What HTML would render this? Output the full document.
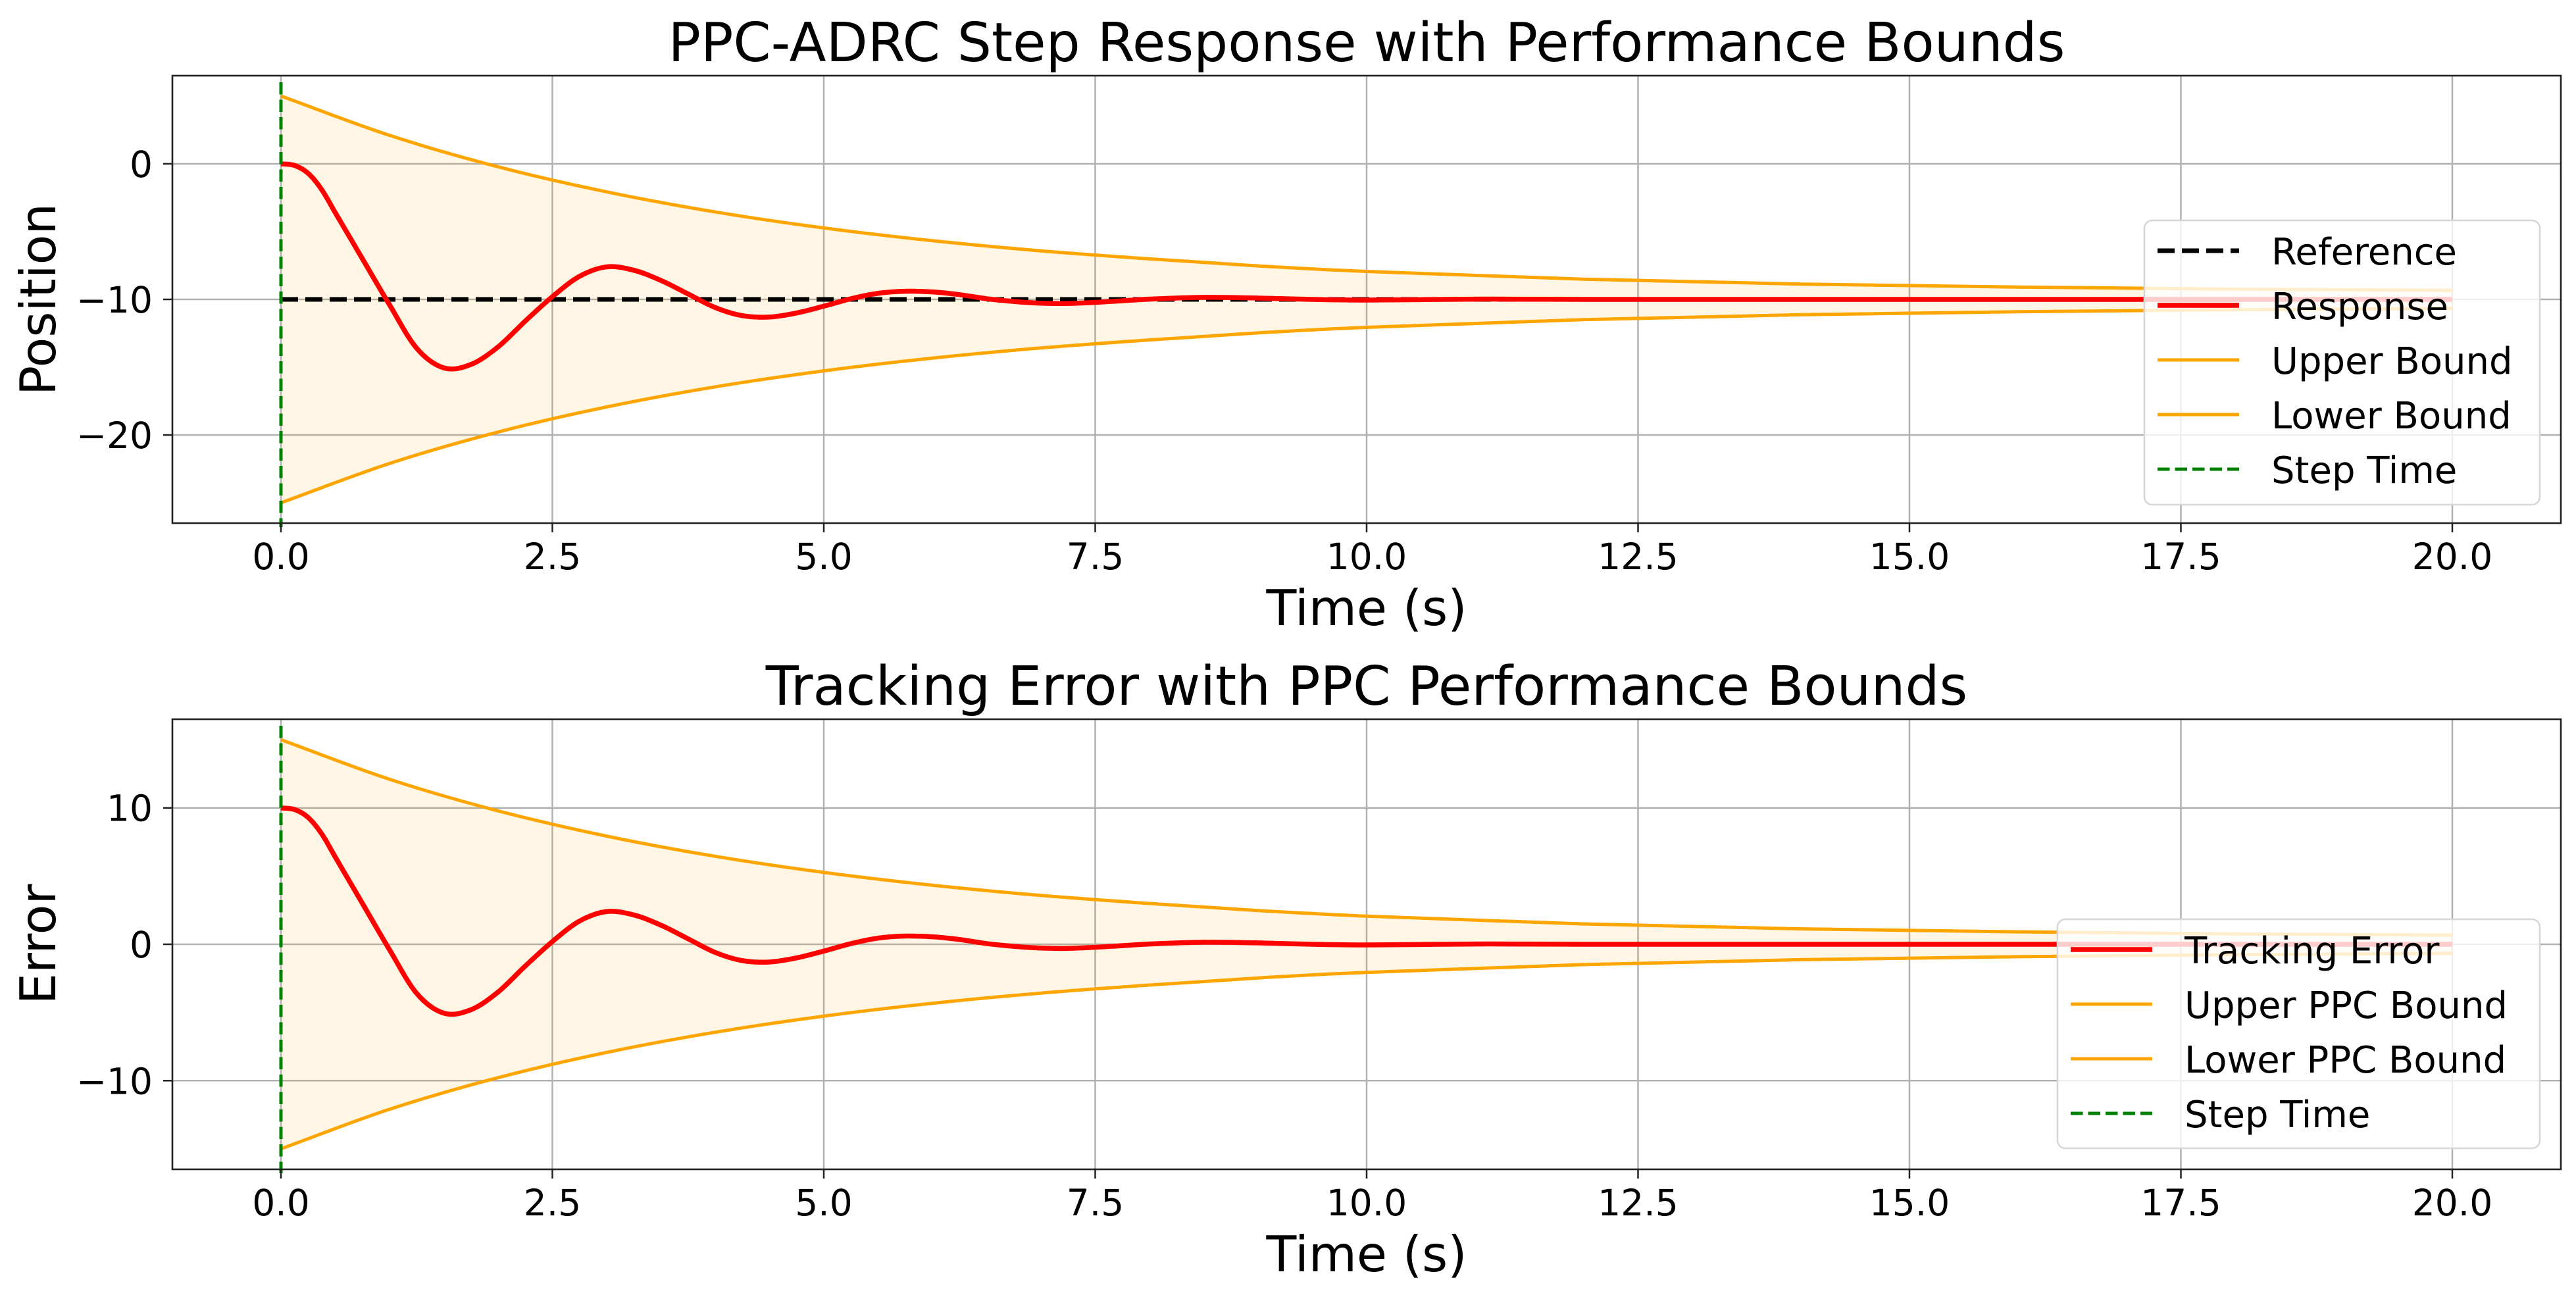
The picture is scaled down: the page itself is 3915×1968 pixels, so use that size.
<!DOCTYPE html>
<html><head><meta charset="utf-8"><style>
html,body{margin:0;padding:0;background:#fff;}
svg{display:block;font-family:"DejaVu Sans","Liberation Sans",sans-serif;}
</style></head><body>
<svg id="chart" width="3915" height="1968" viewBox="0 0 3915 1968" xmlns="http://www.w3.org/2000/svg"></svg>
<script>
// ---- data ----
const xTicks = [0, 2.5, 5, 7.5, 10, 12.5, 15, 17.5, 20];
const xTickLabels = ["0.0","2.5","5.0","7.5","10.0","12.5","15.0","17.5","20.0"];
const posYTicks = [0, -10, -20];
const posYTickLabels = ["0", "\u221210", "\u221220"];
const errYTicks = [10, 0, -10];
const errYTickLabels = ["10", "0", "\u221210"];
const respTimes = [0,0.125,0.25,0.375,0.5,0.75,1,1.25,1.5,1.75,2,2.25,2.5,2.75,3,3.25,3.5,3.75,4,4.25,4.5,4.75,5,5.25,5.5,5.75,6,6.25,6.5,6.75,7,7.25,7.5,7.75,8,8.5,9,9.5,10,11,12,14,17,20];
const positionValues = [0,-0.12,-0.7,-1.9,-3.6,-7.0,-10.4,-13.6,-15.05,-14.8,-13.5,-11.6,-9.8,-8.3,-7.6,-7.85,-8.6,-9.6,-10.6,-11.2,-11.3,-11.0,-10.5,-9.95,-9.55,-9.4,-9.45,-9.65,-9.95,-10.15,-10.28,-10.3,-10.22,-10.1,-9.98,-9.85,-9.9,-10,-10.05,-9.98,-10,-10,-10,-10];
const errorValues = [10,9.88,9.3,8.1,6.4,3.0,-0.4,-3.6,-5.05,-4.8,-3.5,-1.6,0.2,1.7,2.4,2.15,1.4,0.4,-0.6,-1.2,-1.3,-1.0,-0.5,0.05,0.45,0.6,0.55,0.35,0.05,-0.15,-0.28,-0.3,-0.22,-0.1,0.02,0.15,0.1,0,-0.05,0.02,0,0,0,0];
const referenceValue = -10;
const boundTimes = [0,1,2,3,4,5,6,7,8,9,10,12,14,16,18,20];
const boundHalfWidth = [15,12.1,9.78,7.93,6.45,5.27,4.33,3.58,2.99,2.47,2.06,1.49,1.13,0.91,0.76,0.67];
const posUpper = [5,2.1,-0.22,-2.07,-3.55,-4.73,-5.67,-6.42,-7.01,-7.53,-7.94,-8.51,-8.87,-9.09,-9.24,-9.33];
const posLower = [-25,-22.1,-19.78,-17.93,-16.45,-15.27,-14.33,-13.58,-12.99,-12.47,-12.06,-11.49,-11.13,-10.91,-10.76,-10.67];
const stepTime = 0;

const NS = "http://www.w3.org/2000/svg";
const svg = document.getElementById('chart');
function el(tag, attrs, parent, text) {
  const e = document.createElementNS(NS, tag);
  for (const k in attrs) e.setAttribute(k, attrs[k]);
  if (text !== undefined) e.textContent = text;
  (parent || svg).appendChild(e);
  return e;
}
function spline(pts) {
  let d = "M" + pts[0][0].toFixed(2) + "," + pts[0][1].toFixed(2);
  for (let i = 0; i < pts.length - 1; i++) {
    const p0 = pts[Math.max(0, i - 1)], p1 = pts[i], p2 = pts[i + 1], p3 = pts[Math.min(pts.length - 1, i + 2)];
    const h = p2[0] - p1[0];
    const m1 = (p2[1] - p0[1]) / (p2[0] - p0[0] || 1), m2 = (p3[1] - p1[1]) / (p3[0] - p1[0] || 1);
    const c1 = [p1[0] + h / 3, p1[1] + m1 * h / 3];
    const c2 = [p2[0] - h / 3, p2[1] - m2 * h / 3];
    d += "C" + c1[0].toFixed(2) + "," + c1[1].toFixed(2) + " " + c2[0].toFixed(2) + "," + c2[1].toFixed(2) + " " + p2[0].toFixed(2) + "," + p2[1].toFixed(2);
  }
  return d;
}

function panel(cfg) {
  const L = 262, R = 3892, T = cfg.top, B = cfg.bottom;
  const xs = t => L + (t - (-1)) / 22 * (R - L);
  const ys = v => T + (cfg.ymax - v) / (cfg.ymax - cfg.ymin) * (B - T);
  const g = el('g', {}, svg);
  
  
  const clipId = cfg.name + '-clip';
  const defs = el('defs', {}, g);
  const cp = el('clipPath', {id: clipId}, defs);
  el('rect', {x: L, y: T, width: R - L, height: B - T}, cp);
  xTicks.forEach((t, i) => {
    const gl = el('line', {x1: xs(t), x2: xs(t), y1: T, y2: B, stroke: '#b0b0b0', 'stroke-width': 2.5}, g);
    
    
  });
  cfg.yTicks.forEach((v) => {
    const gl = el('line', {x1: L, x2: R, y1: ys(v), y2: ys(v), stroke: '#b0b0b0', 'stroke-width': 2.5}, g);
    
    
  });
  const plot = el('g', {'clip-path': 'url(#' + clipId + ')'}, g);
  const up = boundTimes.map((t, i) => [xs(t), ys(cfg.upper[i])]);
  const lo = boundTimes.map((t, i) => [xs(t), ys(cfg.lower[i])]).reverse();
  let fd = spline(up) + spline(lo).replace(/^M/, 'L') + 'Z';
  const band = el('path', {d: fd, fill: '#ffa500', 'fill-opacity': 0.1, stroke: 'none'}, plot);
  
  
  if (cfg.reference !== undefined) {
    const rl = el('line', {x1: xs(respTimes[0]), x2: xs(respTimes[respTimes.length - 1]), y1: ys(cfg.reference), y2: ys(cfg.reference), stroke: '#000', 'stroke-width': 7, 'stroke-dasharray': '26 11'}, plot);
    
    
  }
  const rp = el('path', {d: spline(respTimes.map((t, i) => [xs(t), ys(cfg.values[i])])), fill: 'none', stroke: '#ff0000', 'stroke-width': 7.5, 'stroke-linejoin': 'round'}, plot);
  
  
  const ub = el('path', {d: spline(up), fill: 'none', stroke: '#ffa500', 'stroke-width': 5}, plot);
  
  
  const lb = el('path', {d: spline(boundTimes.map((t, i) => [xs(t), ys(cfg.lower[i])])), fill: 'none', stroke: '#ffa500', 'stroke-width': 5}, plot);
  
  
  const st = el('line', {x1: xs(stepTime), x2: xs(stepTime), y1: T + 10, y2: B + 6, stroke: '#008000', 'stroke-width': 5, 'stroke-dasharray': '18.5 8'}, g);
  
  
  const fr = el('rect', {x: L, y: T, width: R - L, height: B - T, fill: 'none', stroke: '#222', 'stroke-width': 2.6}, g);
  
  
  xTicks.forEach((t, i) => {
    el('line', {x1: xs(t), x2: xs(t), y1: B, y2: B + 14, stroke: '#222', 'stroke-width': 2.5}, g);
    const tl = el('text', {x: xs(t), y: B + 70, 'font-size': 55, 'text-anchor': 'middle', fill: '#000'}, g, xTickLabels[i]);
    
    
  });
  cfg.yTicks.forEach((v, i) => {
    el('line', {x1: L - 14, x2: L, y1: ys(v), y2: ys(v), stroke: '#222', 'stroke-width': 2.5}, g);
    const tl = el('text', {x: L - 30, y: ys(v) + 20, 'font-size': 55, 'text-anchor': 'end', fill: '#000'}, g, cfg.yTickLabels[i]);
    
    
  });
  const xl = el('text', {x: (L + R) / 2, y: B + 155, 'font-size': 75, 'text-anchor': 'middle', fill: '#000'}, g, 'Time (s)');
  
  
  const yl = el('text', {x: 0, y: 0, 'font-size': 75, 'text-anchor': 'middle', fill: '#000', transform: 'translate(84,' + ((T + B) / 2) + ') rotate(-90)'}, g, cfg.yLabel);
  
  
  const ti = el('text', {x: (L + R) / 2, y: T - 22, 'font-size': 82, 'text-anchor': 'middle', fill: '#000'}, g, cfg.title);
  
  
  const lg = el('g', {}, g);
  
  
  const lx = cfg.legend.x;
  el('rect', {x: lx, y: cfg.legend.y, width: 3860 - lx, height: cfg.legend.h, rx: 12, fill: '#fff', 'fill-opacity': 0.8, stroke: '#d6d6d6', 'stroke-width': 2.5}, lg);
  cfg.legend.items.forEach((it, i) => {
    const cy = cfg.legend.first + i * 83;
    const e = el('g', {}, lg);
    
    
    const a = {x1: lx + 20, x2: lx + 144, y1: cy, y2: cy, stroke: it.c, 'stroke-width': it.w};
    if (it.dash) a['stroke-dasharray'] = it.dash;
    el('line', a, e);
    el('text', {x: lx + 193, y: cy + 21, 'font-size': 56, fill: '#000'}, e, it.t);
  });
}

panel({name: 'position-panel', top: 115, bottom: 795, ymin: -26.5, ymax: 6.5, yTicks: posYTicks, yTickLabels: posYTickLabels,
  values: positionValues, upper: posUpper, lower: posLower, reference: referenceValue, respName: 'response-line',
  yLabel: 'Position', title: 'PPC-ADRC Step Response with Performance Bounds',
  legend: {x: 3259, y: 335, h: 432, first: 381, items: [
    {t: 'Reference', c: '#000', w: 7, dash: '26 11'},
    {t: 'Response', c: '#ff0000', w: 7.5},
    {t: 'Upper Bound', c: '#ffa500', w: 5},
    {t: 'Lower Bound', c: '#ffa500', w: 5},
    {t: 'Step Time', c: '#008000', w: 5, dash: '18.5 8'}]}});

const errUpper = boundHalfWidth.slice();
const errLower = boundHalfWidth.map(v => -v);
panel({name: 'error-panel', top: 1093, bottom: 1777, ymin: -16.5, ymax: 16.5, yTicks: errYTicks, yTickLabels: errYTickLabels,
  values: errorValues, upper: errUpper, lower: errLower, respName: 'tracking-error-line',
  yLabel: 'Error', title: 'Tracking Error with PPC Performance Bounds',
  legend: {x: 3127, y: 1397, h: 348, first: 1443, items: [
    {t: 'Tracking Error', c: '#ff0000', w: 7.5},
    {t: 'Upper PPC Bound', c: '#ffa500', w: 5},
    {t: 'Lower PPC Bound', c: '#ffa500', w: 5},
    {t: 'Step Time', c: '#008000', w: 5, dash: '18.5 8'}]}});
</script>
</body></html>
